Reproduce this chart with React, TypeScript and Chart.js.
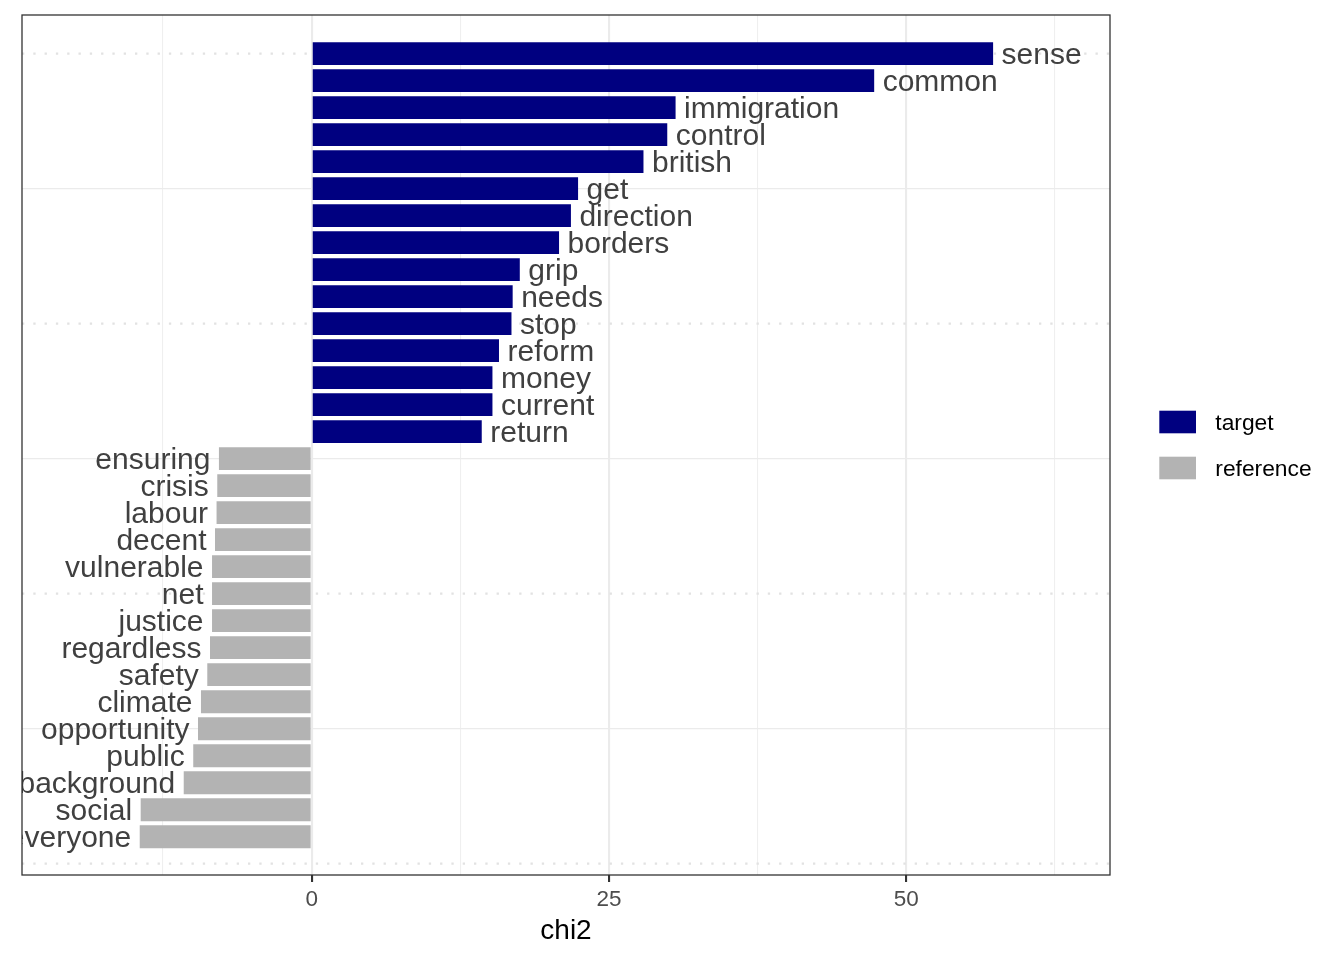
import React, { useEffect, useRef } from "react";
import { Chart, registerables } from "chart.js";

Chart.register(...registerables);

const targetWords = ["sense", "common", "immigration", "control", "british", "get", "direction", "borders", "grip", "needs", "stop", "reform", "money", "current", "return"];
const targetChi2 = [57.3, 47.3, 30.6, 29.9, 27.9, 22.4, 21.8, 20.8, 17.5, 16.9, 16.8, 15.75, 15.2, 15.2, 14.3];
const referenceWords = ["ensuring", "crisis", "labour", "decent", "vulnerable", "net", "justice", "regardless", "safety", "climate", "opportunity", "public", "background", "social", "everyone"];
const referenceChi2 = [-7.8, -7.94, -8.0, -8.13, -8.38, -8.38, -8.38, -8.55, -8.78, -9.31, -9.56, -9.96, -10.76, -14.38, -14.46];
const seriesNames = ["target", "reference"];
const seriesColors = ["#000080", "#B3B3B3"];
const xMajorTicks = [0, 25, 50];
const xMinorTicks = [-12.5, 12.5, 37.5, 62.5];
const yMajorBreaks = [0, 10, 20, 30];
const yMinorBreaks = [5, 15, 25];
const xLimits = [-24.36, 67.13];
const yLimits = [-0.42, 31.43];

const FONT = "'Liberation Sans', Arial, Helvetica, sans-serif";

const totalRows = targetWords.length + referenceWords.length;

const targetData = targetWords.map((w, i) => ({ x: targetChi2[i], y: totalRows - i, word: w }));
const referenceData = referenceWords.map((w, i) => ({ x: referenceChi2[i], y: referenceWords.length - i, word: w }));

const yGridPlugin = {
  id: "yGrid",
  beforeDatasetsDraw(chart: any) {
    const { ctx, chartArea: a, scales } = chart;
    const y = scales.y;
    ctx.save();
    ctx.beginPath();
    ctx.rect(a.left, a.top, a.right - a.left, a.bottom - a.top);
    ctx.clip();
    ctx.strokeStyle = "#EBEBEB";
    ctx.lineWidth = 1.1;
    ctx.setLineDash([]);
    yMinorBreaks.forEach((v) => {
      const py = y.getPixelForValue(v);
      ctx.beginPath();
      ctx.moveTo(a.left, py);
      ctx.lineTo(a.right, py);
      ctx.stroke();
    });
    ctx.strokeStyle = "#E2E2E2";
    ctx.lineWidth = 2.2;
    ctx.setLineDash([2.3, 9]);
    yMajorBreaks.forEach((v) => {
      const py = y.getPixelForValue(v);
      ctx.beginPath();
      ctx.moveTo(a.left, py);
      ctx.lineTo(a.right, py);
      ctx.stroke();
    });
    ctx.restore();
  },
};

const labelPlugin = {
  id: "barLabels",
  afterDatasetsDraw(chart: any) {
    const { ctx, chartArea: a } = chart;
    ctx.save();
    ctx.beginPath();
    ctx.rect(a.left, a.top, a.right - a.left, a.bottom - a.top);
    ctx.clip();
    ctx.font = `30px ${FONT}`;
    ctx.fillStyle = "#404040";
    ctx.textBaseline = "middle";
    chart.data.datasets.forEach((ds: any, di: number) => {
      const meta = chart.getDatasetMeta(di);
      meta.data.forEach((el: any, i: number) => {
        const d = ds.data[i];
        const pos = d.x >= 0;
        ctx.textAlign = pos ? "left" : "right";
        ctx.fillText(d.word, el.x + (pos ? 8.5 : -8.5), el.y + 2.5);
      });
    });
    ctx.restore();
  },
  afterDraw(chart: any) {
    const { ctx, chartArea: a } = chart;
    ctx.save();
    // panel border
    ctx.strokeStyle = "#333333";
    ctx.lineWidth = 1.3;
    ctx.setLineDash([]);
    ctx.strokeRect(a.left, a.top, a.right - a.left, a.bottom - a.top);
    // legend
    const ds = chart.data.datasets;
    const keyW = 36.7;
    const keyH = 22.6;
    const step = 46;
    const lx = a.right + 49.3;
    const cy = (a.top + a.bottom) / 2;
    const top0 = cy - ((ds.length - 1) * step) / 2 - keyH / 2;
    ctx.font = `22.8px ${FONT}`;
    ctx.textAlign = "left";
    ctx.textBaseline = "middle";
    ds.forEach((d: any, i: number) => {
      const ty = top0 + i * step;
      ctx.fillStyle = d.backgroundColor;
      ctx.fillRect(lx, ty, keyW, keyH);
      ctx.fillStyle = "#000000";
      ctx.fillText(d.label, lx + 56, ty + keyH / 2 + 2);
    });
    ctx.restore();
  },
};

export default function App() {
  const ref = useRef<HTMLCanvasElement>(null);
  useEffect(() => {
    const barOpts = { grouped: false, categoryPercentage: 1, barPercentage: 0.85, borderWidth: 0 };
    const chart = new Chart(ref.current as HTMLCanvasElement, {
      type: "bar",
      data: {
        datasets: [
          { label: seriesNames[0], data: targetData as any, backgroundColor: seriesColors[0], ...barOpts },
          { label: seriesNames[1], data: referenceData as any, backgroundColor: seriesColors[1], ...barOpts },
        ],
      },
      options: {
        indexAxis: "y",
        animation: false,
        responsive: false,
        devicePixelRatio: 1,
        layout: { padding: { left: 22, top: 15, right: 234, bottom: 0 } },
        plugins: { legend: { display: false }, tooltip: { enabled: false } },
        scales: {
          x: {
            type: "linear",
            offset: false,
            min: xLimits[0],
            max: xLimits[1],
            afterBuildTicks: (s: any) => {
              s.ticks = [...xMajorTicks, ...xMinorTicks].sort((p, q) => p - q).map((v) => ({ value: v }));
            },
            afterFit: (s: any) => {
              s.height = 85;
            },
            border: { display: false },
            grid: {
              color: (c: any) => (xMajorTicks.includes(c.tick?.value) ? "#EBEBEB" : "#EFEFEF"),
              lineWidth: (c: any) => (xMajorTicks.includes(c.tick?.value) ? 2.1 : 1.1),
              drawTicks: true,
              tickLength: 7,
              tickWidth: 2.1,
              tickColor: (c: any) => (xMajorTicks.includes(c.tick?.value) ? "#333333" : "rgba(0,0,0,0)"),
            },
            ticks: {
              autoSkip: false,
              maxRotation: 0,
              padding: 4,
              color: "#4D4D4D",
              font: { family: FONT, size: 22.5 },
              callback: (v: any) => (xMajorTicks.includes(Number(v)) ? String(v) : ""),
            },
            title: {
              display: true,
              text: "chi2",
              color: "#000000",
              font: { family: FONT, size: 28 },
              padding: { top: 0, bottom: 12 },
            },
          },
          y: {
            type: "linear",
            display: false,
            offset: false,
            min: yLimits[0],
            max: yLimits[1],
          },
        },
      } as any,
      plugins: [yGridPlugin, labelPlugin],
    });
    return () => chart.destroy();
  }, []);
  return (
    <div style={{ position: "absolute", left: 0, top: 0, width: 1344, height: 960, background: "#ffffff" }}>
      <canvas ref={ref} width={1344} height={960} style={{ display: "block" }} />
    </div>
  );
}
